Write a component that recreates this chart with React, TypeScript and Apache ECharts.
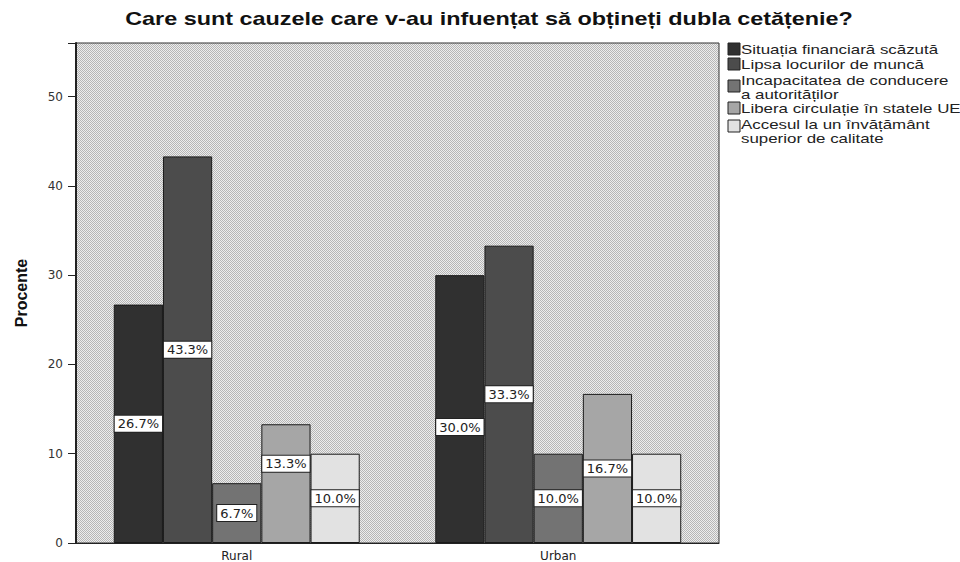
import React, { useEffect, useRef } from "react";
import * as echarts from "echarts";

const titleText = "Care sunt cauzele care v-au infuențat să obțineți dubla cetățenie?";
const categories = ["Rural", "Urban"];
const seriesNames = [
  "Situația financiară scăzută",
  "Lipsa locurilor de muncă",
  "Incapacitatea de conducere\na autorităților",
  "Libera circulație în statele UE",
  "Accesul la un învățământ\nsuperior de calitate",
];
const situatia = [26.7, 30.0];
const lipsa = [43.3, 33.3];
const incapacitatea = [6.7, 10.0];
const libera = [13.3, 16.7];
const accesul = [10.0, 10.0];
const seriesValues = [situatia, lipsa, incapacitatea, libera, accesul];
const colors = ["#303030", "#4c4c4c", "#737373", "#a6a6a6", "#e2e2e2"];
const yTicks = [0, 10, 20, 30, 40, 50];

export default function App() {
  const ref = useRef<HTMLDivElement>(null);
  useEffect(() => {
    if (!ref.current) return;
    const chart = echarts.init(ref.current, null, { renderer: "svg" });

    const pat = document.createElement("canvas");
    pat.width = 2;
    pat.height = 2;
    const ctx = pat.getContext("2d");
    if (ctx) {
      ctx.fillStyle = "#ededed";
      ctx.fillRect(0, 0, 2, 2);
      ctx.fillStyle = "#b6b6b6";
      ctx.fillRect(0, 0, 1, 1);
      ctx.fillRect(1, 1, 1, 1);
    }

    const labelOffsets: Record<string, number[]> = { "0-1": [0, 18], "3-0": [0, -20] };

    const legendTops = [42, 57, 73, 101, 117];
    const legendBoxTops = [43, 58, 80, 102, 120];
    const legendEls: any[] = [];
    seriesNames.forEach((name, i) => {
      legendEls.push({
        type: "rect",
        shape: { x: 728, y: legendBoxTops[i], width: 12, height: 12 },
        style: { fill: colors[i], stroke: "#222", lineWidth: 1 },
      });
      legendEls.push({
        type: "text",
        x: 741,
        y: legendTops[i],
        scaleX: 1.3,
        style: {
          text: name,
          fill: "#222",
          font: "13px 'Liberation Sans', Arial, sans-serif",
          lineHeight: 14,
          textAlign: "left",
          textVerticalAlign: "top",
        },
      });
    });

    chart.setOption({
      animation: false,
      backgroundColor: "#ffffff",
      graphic: [
        {
          type: "text",
          x: 489,
          y: 19,
          scaleX: 1.3,
          style: {
            text: titleText,
            fill: "#111",
            font: "bold 18px 'Liberation Sans', Arial, sans-serif",
            textAlign: "center",
            textVerticalAlign: "middle",
          },
        },
        ...legendEls,
      ],
      grid: {
        left: 76,
        right: 241,
        top: 43,
        bottom: 19,
        show: true,
        backgroundColor: { image: pat, repeat: "repeat" },
        borderColor: "#333",
        borderWidth: 1,
      },
      xAxis: {
        type: "category",
        data: categories,
        axisLine: { lineStyle: { color: "#222" } },
        axisTick: { alignWithLabel: true, length: 5, lineStyle: { color: "#222" } },
        axisLabel: { fontFamily: "DejaVu Sans", fontSize: 12, color: "#222", margin: 7 },
      },
      yAxis: {
        type: "value",
        min: 0,
        max: 56,
        interval: 10,
        name: "Procente",
        nameLocation: "middle",
        nameGap: 47,
        nameTextStyle: { fontFamily: "Liberation Sans, Arial", fontSize: 16, fontWeight: "bold", color: "#111" },
        axisLine: { show: true, lineStyle: { color: "#222", width: 2 } },
        axisTick: { show: true, length: 8, lineStyle: { color: "#222" } },
        splitLine: { show: false },
        axisLabel: {
          fontFamily: "DejaVu Sans",
          fontSize: 12,
          color: "#333",
          margin: 13,
          formatter: (v: number) => (yTicks.includes(v) ? String(v) : ""),
        },
      },
      series: seriesNames.map((name, si) => ({
        name,
        type: "bar",
        barGap: "0%",
        barCategoryGap: "23.5%",
        itemStyle: { color: colors[si], borderColor: "#1a1a1a", borderWidth: 1 },
        data: seriesValues[si].map((v, ci) => ({
          value: v,
          label: labelOffsets[`${si}-${ci}`] ? { offset: labelOffsets[`${si}-${ci}`] } : undefined,
        })),
        label: {
          show: true,
          position: "inside",
          formatter: (p: any) => `${Number(p.value).toFixed(1)}%`,
          fontFamily: "DejaVu Sans",
          fontSize: 13,
          color: "#222",
          backgroundColor: "#ffffff",
          borderColor: "#222",
          borderWidth: 1,
          padding: [2, 3, 1, 3],
        },
      })),
    });
    return () => chart.dispose();
  }, []);
  return (
    <div
      ref={ref}
      style={{ position: "absolute", left: 0, top: 0, width: 960, height: 562 }}
    />
  );
}
